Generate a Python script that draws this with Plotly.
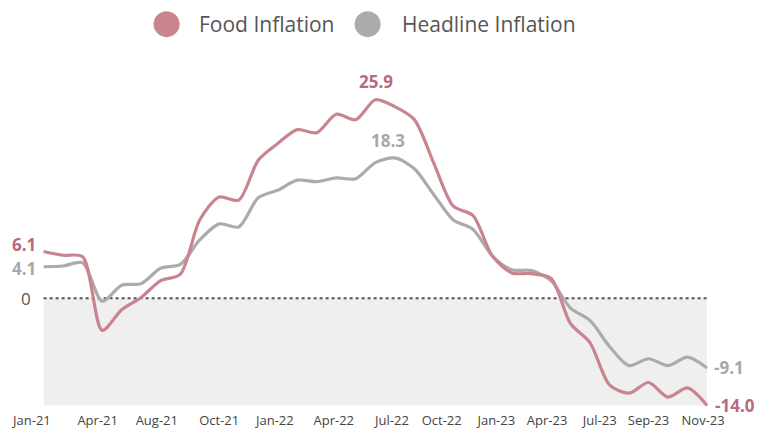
import pandas as pd
import plotly.graph_objects as go

# ---------- data ----------
MONTHS = pd.date_range("2021-01-01", "2023-11-01", freq="MS").strftime("%b-%y").tolist()

FOOD = [6.1, 5.6, 5.4, -4.2, -1.5, 0.1, 2.3, 3.1, 10.2, 13.2, 12.8, 18.0,
        20.2, 22.0, 21.6, 24.0, 23.3, 25.9, 25.0, 23.3, 17.6, 12.0, 10.8, 5.5,
        3.3, 3.2, 2.6, -3.3, -5.8, -11.3, -12.4, -11.0, -12.9, -11.7, -14.0]

HEADLINE = [4.1, 4.2, 4.6, -0.4, 1.7, 1.9, 3.9, 4.4, 7.6, 9.7, 9.3, 13.1,
            14.1, 15.4, 15.2, 15.7, 15.6, 17.7, 18.3, 16.9, 13.5, 10.2, 9.0, 5.5,
            3.7, 3.6, 2.3, -1.3, -2.9, -6.3, -8.8, -7.9, -8.8, -7.7, -9.1]

TICK_TEXT = ["Jan-21", "Apr-21", "Aug-21", "Oct-21", "Jan-22", "Apr-22", "Jul-22",
             "Oct-22", "Jan-23", "Apr-23", "Jul-23", "Sep-23", "Nov-23"]
TICK_POS = [-0.6, 2.77, 5.8, 9.0, 11.85, 14.87, 17.85, 20.4, 23.2, 25.8, 28.5, 31.0, 33.8]

# ---------- style ----------
FOOD_LINE = "#c9848f"
FOOD_TEXT = "#b96a7c"
HEAD_LINE = "#ababab"
HEAD_TEXT = "#a8a8a8"
FONT = "Open Sans"

x = list(range(len(MONTHS)))
last = len(MONTHS) - 1

fig = go.Figure()
fig.add_trace(go.Scatter(x=x, y=HEADLINE, mode="lines", name="Headline Inflation",
                         line=dict(color=HEAD_LINE, width=3.2, shape="spline", smoothing=0.8),
                         customdata=MONTHS, hovertemplate="%{customdata}: %{y}<extra></extra>"))
fig.add_trace(go.Scatter(x=x, y=FOOD, mode="lines", name="Food Inflation",
                         line=dict(color=FOOD_LINE, width=3.2, shape="spline", smoothing=0.8),
                         customdata=MONTHS, hovertemplate="%{customdata}: %{y}<extra></extra>"))

# grey band below zero + dotted zero line
fig.add_shape(type="rect", x0=0, x1=last, y0=min(FOOD), y1=0, xref="x", yref="y",
              fillcolor="#efefef", line_width=0, layer="below")
fig.add_shape(type="line", x0=0, x1=last, y0=0, y1=0, xref="x", yref="y",
              line=dict(color="#555555", width=2, dash="dot"), layer="below")

ann = []
bold = lambda c: dict(family=FONT, size=17, color=c)
# start values
ann.append(dict(x=0, y=FOOD[0], text="<b>%.1f</b>" % FOOD[0], xanchor="right", xshift=-6,
                yshift=7, showarrow=False, font=bold(FOOD_TEXT)))
ann.append(dict(x=0, y=HEADLINE[0], text="<b>%.1f</b>" % HEADLINE[0], xanchor="right",
                xshift=-6, yshift=-2, showarrow=False, font=bold(HEAD_TEXT)))
ann.append(dict(x=0, y=0, text="0", xanchor="right", xshift=-11, showarrow=False,
                font=dict(family=FONT, size=17, color="#555555")))
# peaks
fi = FOOD.index(max(FOOD))
hi = HEADLINE.index(max(HEADLINE))
ann.append(dict(x=fi, y=FOOD[fi], text="<b>%.1f</b>" % FOOD[fi], yanchor="bottom", yshift=5,
                xshift=1, showarrow=False, font=bold(FOOD_TEXT)))
ann.append(dict(x=hi, y=HEADLINE[hi], text="<b>%.1f</b>" % HEADLINE[hi], yanchor="bottom",
                yshift=4, xshift=-7, showarrow=False, font=bold(HEAD_TEXT)))
# end values
ann.append(dict(x=last, y=HEADLINE[-1], text="<b>%.1f</b>" % HEADLINE[-1], xanchor="left",
                xshift=5, showarrow=False, font=bold(HEAD_TEXT)))
ann.append(dict(x=last, y=FOOD[-1], text="<b>%.1f</b>" % FOOD[-1], xanchor="left",
                xshift=6, showarrow=False, font=bold(FOOD_TEXT)))

# manual legend (big round markers)
for cx, tx, col, label in [(0.2035, 0.248, FOOD_LINE, "Food Inflation"),
                           (0.4987, 0.5456, HEAD_LINE, "Headline Inflation")]:
    fig.add_shape(type="circle", xref="paper", yref="paper", xsizemode="pixel",
                  ysizemode="pixel", xanchor=cx, yanchor=1.204, x0=-13, x1=13, y0=-13, y1=13,
                  fillcolor=col, line_width=0)
    ann.append(dict(x=tx, y=1.204, xref="paper", yref="paper", text=label, xanchor="left",
                    yanchor="middle", showarrow=False,
                    font=dict(family=FONT, size=21, color="#555555")))

fig.update_layout(
    width=766, height=433,
    margin=dict(l=20, r=65, t=81, b=34),
    paper_bgcolor="white", plot_bgcolor="white",
    showlegend=False,
    font=dict(family=FONT, color="#444444"),
    annotations=ann,
    xaxis=dict(range=[-0.8, last + 0.1], showgrid=False, zeroline=False, showline=False,
               automargin=False,
               tickmode="array", tickvals=TICK_POS, ticktext=TICK_TEXT,
               tickfont=dict(family=FONT, size=13, color="#444444"), ticklabelstandoff=4),
    yaxis=dict(range=[-14.2, 27.3], showgrid=False, zeroline=False, showline=False,
               automargin=False, showticklabels=False),
)

fig.write_html("out.html")
